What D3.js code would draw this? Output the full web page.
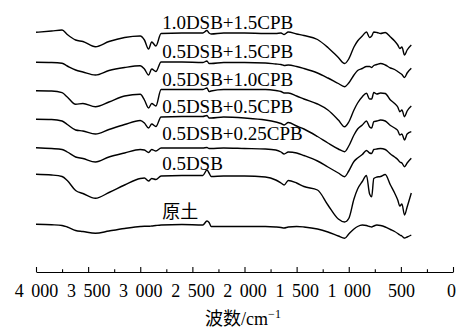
<!DOCTYPE html>
<html>
<head>
<meta charset="utf-8">
<script src="https://cdn.jsdelivr.net/npm/d3@7"></script>
<style>
  html, body { margin: 0; padding: 0; background: #fff; }
  svg { display: block; }
  .latin { font-family: "Liberation Serif", "Times New Roman", Times, "DejaVu Serif", serif; }
  .cjk { font-family: "Noto Sans CJK SC", "Noto Sans CJK JP", sans-serif; }
</style>
</head>
<body>
<svg id="chart" width="456" height="329"></svg>
<script>
// Data (wavenumber in cm-1, transmittance in a.u., curves stacked) -------
const wavenumbers = [4000, 3850, 3750, 3700, 3620, 3550, 3430, 3300, 3150, 3000,
  2960, 2920, 2890, 2850, 2800, 2600, 2400, 2360, 2340, 2320,
  2200, 2000, 1800, 1700, 1650, 1620, 1580, 1500, 1430, 1300,
  1200, 1100, 1040, 1000, 950, 915, 870, 830, 800, 780,
  760, 730, 695, 650, 600, 560, 530, 510, 490, 465,
  440, 400];

const dsb10cpb15 = [239.7, 241, 242, 237.5, 232, 230.5, 225.3, 230.5, 234.5, 236,
  232, 223, 230, 226, 238.5, 239, 239, 241.5, 239, 238,
  239, 239, 238.5, 238.5, 239, 237.5, 240, 238, 236.5, 232.5,
  224.5, 214.5, 208.5, 213, 225, 231, 236, 240, 234.5, 236,
  240, 239.5, 238.5, 239.5, 235, 231, 227, 223.5, 225, 217,
  222, 227];

const dsb05cpb15 = [209.7, 209.5, 208.7, 206, 202, 200, 197, 201.5, 204.5, 206.3,
  203, 197, 203, 200.5, 210, 210, 209.5, 211, 208.5, 208.5,
  209.5, 209.5, 209, 208, 207.5, 206.5, 207, 205.5, 203.5, 199,
  194, 188.5, 185.3, 189, 197, 201.5, 203.5, 205.5, 205.5, 204.5,
  206.5, 207.5, 208.5, 207, 204, 202.5, 200.5, 199, 197.5, 194.5,
  199, 203.7];

const dsb05cpb10 = [181.3, 181, 179.3, 175, 167.7, 168.5, 165.3, 170, 176, 177.7,
  172, 164, 168.5, 166, 182.5, 182.5, 182.5, 184, 180.5, 181,
  182.5, 182.5, 182.5, 181.5, 180.5, 179, 179, 176, 173, 168,
  162, 152, 145.3, 150, 162, 169, 175.3, 178.7, 173, 173,
  179.5, 178, 179, 178.5, 172, 168.5, 165, 160.3, 162, 155.3,
  161, 166];

const dsb05cpb05 = [152.7, 152.5, 151, 147.5, 142, 141, 138, 142.5, 147.5, 151.5,
  149, 144, 148, 145.5, 155, 155.5, 155.5, 156.5, 154, 154,
  155, 154, 152, 150, 148.5, 147, 149.5, 146, 143, 135.5,
  129, 123, 120.3, 126, 137, 143, 147, 151, 145, 144,
  150.3, 151, 152, 151, 146.5, 144, 141.5, 137, 138, 132,
  138, 140.3];

const dsb05cpb025 = [124.3, 123.5, 122.5, 120, 115, 113.5, 110, 115, 119, 122.5,
  122, 119.5, 122.5, 121, 124, 124, 124, 124.5, 123.5, 123.5,
  124, 123.5, 123, 122, 120, 118, 120, 119, 116.5, 111,
  105, 99, 95.3, 101, 110.5, 114, 117.5, 121.5, 119, 118.5,
  122.5, 123, 123.5, 122.5, 118, 115, 112.5, 110, 109, 105.3,
  109, 113.7];

const dsb05 = [97.7, 97, 95.5, 91.5, 81.5, 78.5, 73.7, 79.5, 87, 93.5,
  94, 91, 93.5, 92.5, 96, 96.5, 96.5, 102, 99, 95.5,
  96, 96, 95, 92, 89, 87, 91.5, 89, 85.5, 82,
  67, 53, 50, 53.5, 73, 83, 90.5, 96.5, 78, 75.3,
  93.5, 95, 95.5, 97.5, 87, 79, 72, 66, 68, 57,
  65, 79];

const rawSoil = [47.7, 47.2, 46.5, 45, 41.5, 40.5, 38.7, 41, 43.5, 45.5,
  45.7, 45.7, 46, 46.5, 47, 47.5, 47, 51, 49.5, 45.5,
  45.5, 45.5, 45.5, 45, 44.5, 44, 45, 45.5, 45, 43,
  40, 36, 33.7, 38, 43, 45.5, 47, 46.5, 45.5, 45,
  46, 47, 46.5, 45, 42.5, 40.5, 38.5, 37, 36, 34,
  35, 37];

const seriesNames = ["1.0DSB+1.5CPB", "0.5DSB+1.5CPB", "0.5DSB+1.0CPB", "0.5DSB+0.5CPB",
  "0.5DSB+0.25CPB", "0.5DSB", "原土"];
const seriesValues = [dsb10cpb15, dsb05cpb15, dsb05cpb10, dsb05cpb05, dsb05cpb025, dsb05, rawSoil];

const majorTicks = [4000, 3500, 3000, 2500, 2000, 1500, 1000, 500, 0];
const minorTicks = [3750, 3250, 2750, 2250, 1750, 1250, 750, 250];
// ------------------------------------------------------------

// Layout
const svg = d3.select("#chart");
const axisY = 272;
const labelX = 2790;                           // wavenumber where labels start
const labelLift = [5, 4, 4, 4, 8, 6, 7.5];     // label baseline above curve (px)

const x = d3.scaleLinear().domain([4000, 0]).range([36, 453]);
const y = d3.scaleLinear().domain([0, 260]).range([axisY, 12]);

// Thousands separated by space: "4 000"
const fmt = d3.formatLocale({ decimal: ".", thousands: " ", grouping: [3], currency: ["", ""] }).format(",");
const isCjk = s => /[\u4e00-\u9fff]/.test(s);

// Curves
const line = d3.line()
    .x(d => x(d.w))
    .y(d => y(d.t))
    .curve(d3.curveMonotoneX);

const k2800 = wavenumbers.indexOf(2800);

seriesValues.forEach((vals, i) => {
    const pts = wavenumbers.map((w, k) => ({ w, t: vals[k] }));
    svg.append("path")
        .datum(pts)
        .attr("d", line)
        .attr("fill", "none")
        .attr("stroke", "#000")
        .attr("stroke-width", 1.4)
        .attr("stroke-linejoin", "round");

    // label sits just above its curve
    svg.append("text")
        .attr("class", isCjk(seriesNames[i]) ? "cjk" : "latin")
        .attr("x", x(labelX))
        .attr("y", y(vals[k2800]) - labelLift[i])
        .attr("font-size", isCjk(seriesNames[i]) ? 18 : 19)
        .attr("fill", "#000")
        .text(seriesNames[i]);
});

// X axis -------------------------------------------------------
const xAxis = d3.axisBottom(x)
    .tickValues(majorTicks)
    .tickSize(-5)
    .tickSizeOuter(0)
    .tickFormat(fmt);

const gx = svg.append("g")
    .attr("transform", `translate(0,${axisY})`)
    .call(xAxis);

gx.attr("font-family", null);
gx.select(".domain").attr("stroke", "#000").attr("stroke-width", 1.2);
gx.selectAll(".tick line").attr("stroke", "#000").attr("stroke-width", 1.1);
gx.selectAll(".tick text")
    .attr("class", "latin")
    .attr("dy", null)
    .attr("y", 24.5)
    .attr("x", d => d === 0 ? -2 : 0)   // keep "0" inside the frame
    .attr("font-size", 18)
    .style("word-spacing", "3px")
    .attr("fill", "#000");

// minor ticks
svg.append("g")
    .attr("transform", `translate(0,${axisY})`)
    .call(d3.axisBottom(x).tickValues(minorTicks).tickSize(-2.7).tickSizeOuter(0).tickFormat(""))
    .call(g => g.select(".domain").remove())
    .call(g => g.selectAll(".tick line").attr("stroke", "#000").attr("stroke-width", 1.1));

// Axis title
const title = svg.append("text")
    .attr("x", 243)
    .attr("y", 325)
    .attr("text-anchor", "middle")
    .attr("font-size", 18)
    .attr("fill", "#000");
title.append("tspan").attr("class", "cjk").text("波数");
title.append("tspan").attr("class", "latin").text("/cm");
title.append("tspan").attr("class", "latin").attr("dy", -7).attr("font-size", 12).text("−1");
</script>
</body>
</html>
